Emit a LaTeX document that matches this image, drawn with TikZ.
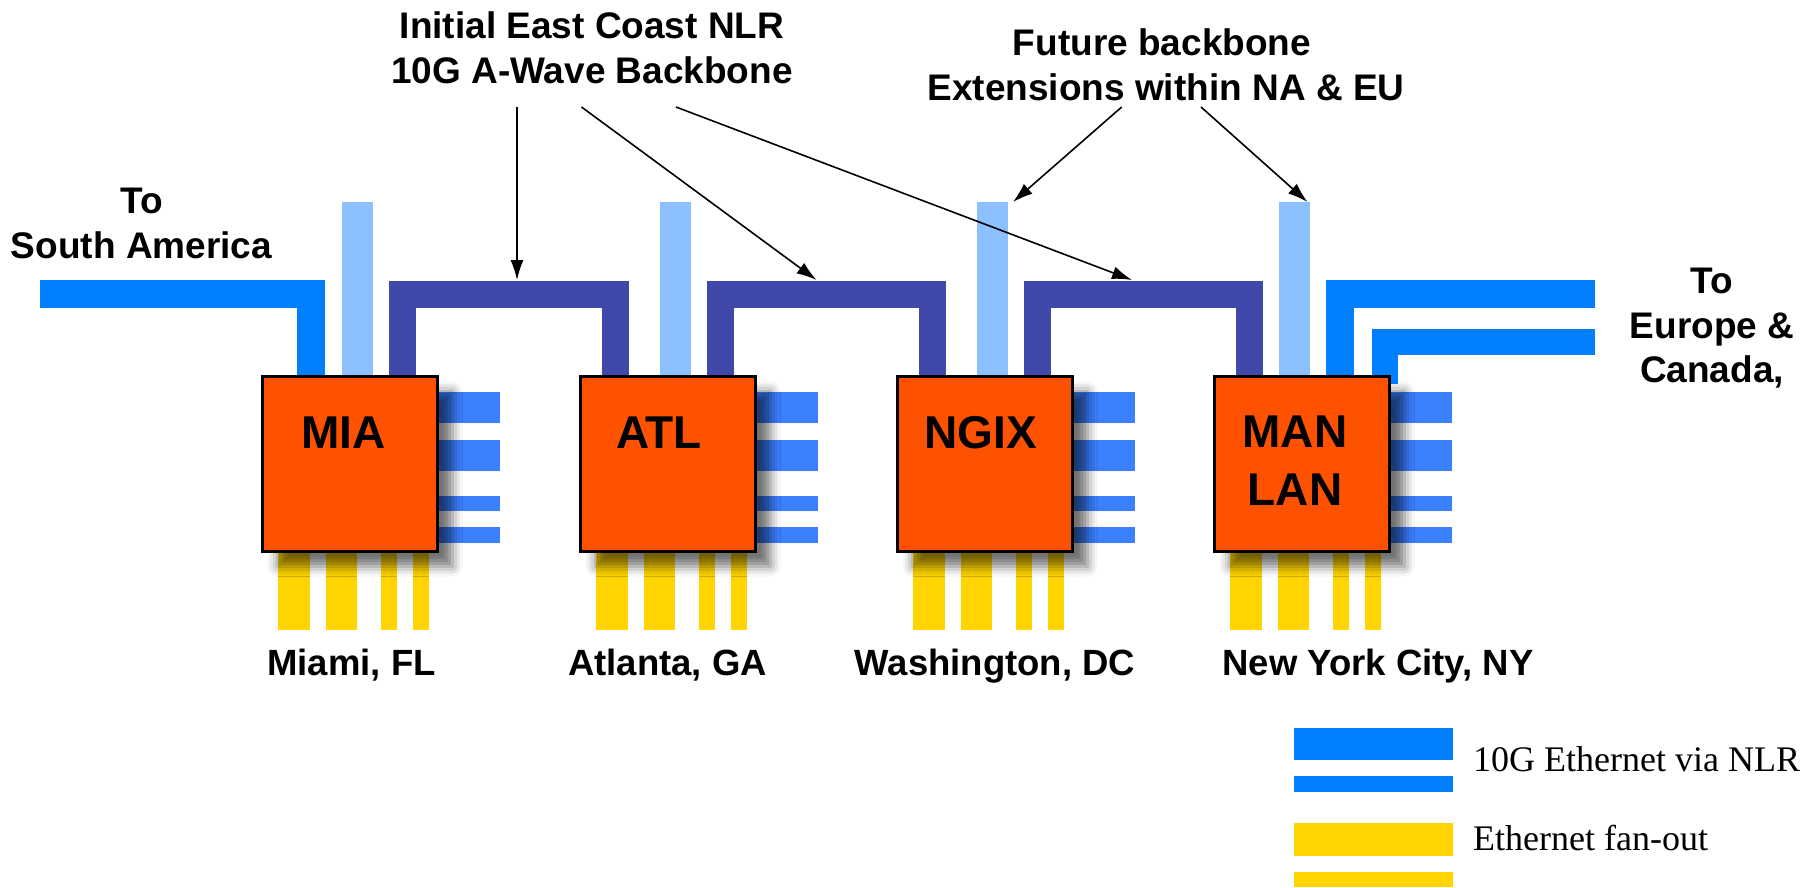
\documentclass[tikz,border=0pt]{standalone}
\usepackage{fontspec}
\setmainfont{Liberation Sans}
\newfontfamily\legendfont{Liberation Serif}
\usetikzlibrary{arrows.meta,shadows.blur}
\definecolor{nlrblue}{HTML}{0080FF}
\definecolor{pillarblue}{HTML}{8CC0FF}
\definecolor{backbonecol}{HTML}{4048AA}
\definecolor{stubblue}{HTML}{3A80FF}
\definecolor{fanyellow}{HTML}{FFD400}
\definecolor{boxorange}{HTML}{FF5200}
\begin{document}
\begin{tikzpicture}[x=1pt,y=-1pt,
  nlrline/.style={draw=nlrblue,line width=28pt,line join=miter},
  innerline/.style={draw=nlrblue,line width=26pt,line join=miter},
  pillar/.style={draw=pillarblue,line width=31pt},
  backbone/.style={draw=backbonecol,line width=27pt,line join=miter},
  popbox/.style={draw=black,line width=3.5pt,fill=boxorange,minimum width=175pt,minimum height=175pt,inner sep=0pt,outer sep=0pt,
    blur shadow={shadow xshift=15pt,shadow yshift=-15pt,shadow blur radius=10pt,shadow opacity=55}},
  boxlabel/.style={font=\bfseries\fontsize{46}{50}\selectfont,anchor=base,inner sep=0pt},
  citylabel/.style={font=\bfseries\fontsize{36.5}{40}\selectfont,anchor=base,inner sep=0pt},
  note/.style={font=\bfseries\fontsize{37}{40}\selectfont,anchor=base,inner sep=0pt},
  legendtext/.style={font=\legendfont\fontsize{36}{40}\selectfont,anchor=base west,inner sep=0pt},
  pointer/.style={-{Latex[length=20pt,width=13pt]},line width=1.6pt,draw=black}
]
\useasboundingbox (0,0) rectangle (1818,887);

% box positions
\coordinate (pMIA) at (350,464);
\coordinate (pATL) at (668,464);
\coordinate (pNGIX) at (985,464);
\coordinate (pMAN) at (1302,464);

% stubs (drawn beneath boxes)
\foreach \p in {pMIA,pATL,pNGIX,pMAN} {
  \fill[stubblue] ([shift={(81,-72)}]\p) rectangle ([shift={(150,-41)}]\p);
  \fill[stubblue] ([shift={(81,-24)}]\p) rectangle ([shift={(150,7)}]\p);
  \fill[stubblue] ([shift={(81,32)}]\p) rectangle ([shift={(150,47)}]\p);
  \fill[stubblue] ([shift={(81,63)}]\p) rectangle ([shift={(150,79)}]\p);
  \fill[fanyellow] ([shift={(-72,80)}]\p) rectangle ([shift={(-40,166)}]\p);
  \fill[fanyellow] ([shift={(-24,80)}]\p) rectangle ([shift={(7,166)}]\p);
  \fill[fanyellow] ([shift={(31,80)}]\p) rectangle ([shift={(47,166)}]\p);
  \fill[fanyellow] ([shift={(63,80)}]\p) rectangle ([shift={(79,166)}]\p);
}

% light blue pillars
\foreach \p/\dx in {pMIA/7,pATL/7,pNGIX/7.5,pMAN/-8} {
  \draw[pillar] ([shift={(\dx,-60)}]\p) -- ([shift={(\dx,-262)}]\p);
}

% to South America
\coordinate (samEnd) at (39.5,294);
\draw[nlrline] ([shift={(-39,-80)}]pMIA) -- ([shift={(-39,-170)}]pMIA) -- (samEnd);

% to Europe & Canada
\coordinate (euOuter) at (1595,294);
\coordinate (euInner) at (1595,341.5);
\draw[nlrline] ([shift={(38,-80)}]pMAN) -- ([shift={(38,-170)}]pMAN) -- (euOuter);
\draw[innerline] ([shift={(83,-80)}]pMAN) -- ([shift={(83,-122.5)}]pMAN) -- (euInner);

% backbone segments
\draw[backbone] ([shift={(52,-80)}]pMIA) -- ([shift={(52,-170)}]pMIA) -| ([shift={(-52.5,-80)}]pATL);
\draw[backbone] ([shift={(52,-80)}]pATL) -- ([shift={(52,-170)}]pATL) -| ([shift={(-52.5,-80)}]pNGIX);
\draw[backbone] ([shift={(52,-80)}]pNGIX) -- ([shift={(52,-170)}]pNGIX) -| ([shift={(-52.5,-80)}]pMAN);

% boxes
\node[popbox] (mia) at (pMIA) {};
\node[popbox] (atl) at (pATL) {};
\node[popbox] (ngix) at (pNGIX) {};
\node[popbox] (man) at (pMAN) {};

\node[boxlabel] (miaT) at (343.5,448) {MIA};
\node[boxlabel] (atlT) at (659,448) {ATL};
\node[boxlabel] (ngixT) at (981,448) {NGIX};
\node[boxlabel] (manT) at (1295,447) {MAN};
\node[boxlabel] (lanT) at (1295,505) {LAN};

% city labels
\node[citylabel] (miami) at (351.5,675) {Miami, FL};
\node[citylabel] (atlanta) at (667.5,675) {Atlanta, GA};
\node[citylabel] (wash) at (995,675) {Washington, DC};
\node[citylabel] (nyc) at (1378,675) {New York City, NY};

% notes
\node[note] (initA) at (592,38) {Initial East Coast NLR};
\node[note] (initB) at (592,83) {10G A-Wave Backbone};
\node[note] (futA) at (1162,55) {Future backbone};
\node[note] (futB) at (1166,100) {Extensions within NA \& EU};
\node[note] (samA) at (142,213) {To};
\node[note] (samB) at (141.5,258) {South America};
\node[note] (euA) at (1712,293) {To};
\node[note] (euB) at (1712,338) {Europe \&};
\node[note] (euC) at (1712,382) {Canada,};

% pointers
\coordinate (a1s) at (517,107);  \coordinate (a1e) at (517,280);
\coordinate (a2s) at (581.5,107); \coordinate (a2e) at (816.5,280);
\coordinate (a3s) at (676,107);  \coordinate (a3e) at (1132,280);
\coordinate (a4s) at (1121.7,107); \coordinate (a4e) at (1013,202);
\coordinate (a5s) at (1201,107); \coordinate (a5e) at (1307.5,202);
\draw[pointer] (a1s) -- (a1e);
\draw[pointer] (a2s) -- (a2e);
\draw[pointer] (a3s) -- (a3e);
\draw[pointer] (a4s) -- (a4e);
\draw[pointer] (a5s) -- (a5e);

% legend
\fill[nlrblue] (1293.5,728) rectangle (1453,760);
\fill[nlrblue] (1293.5,776) rectangle (1453,792);
\fill[fanyellow] (1293.5,823) rectangle (1453,856);
\fill[fanyellow] (1293.5,872) rectangle (1453,887);
\node[legendtext] (legA) at (1473,771) {10G Ethernet via NLR};
\node[legendtext] (legB) at (1473,850) {Ethernet fan-out};
\end{tikzpicture}
\end{document}
